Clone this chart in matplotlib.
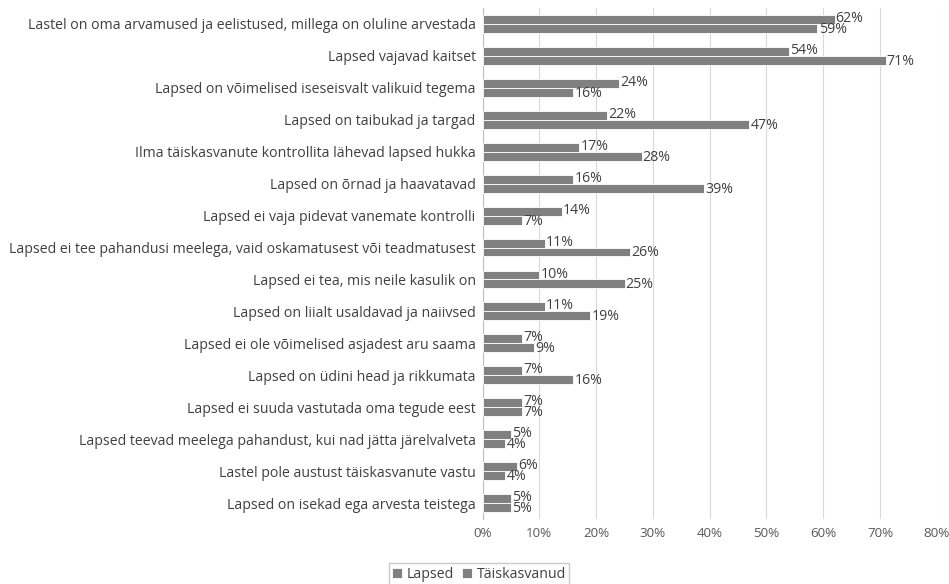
import matplotlib
matplotlib.use("Agg")
import matplotlib.pyplot as plt
import numpy as np

categories = [
    "Lastel on oma arvamused ja eelistused, millega on oluline arvestada",
    "Lapsed vajavad kaitset",
    "Lapsed on võimelised iseseisvalt valikuid tegema",
    "Lapsed on taibukad ja targad",
    "Ilma täiskasvanute kontrollita lähevad lapsed hukka",
    "Lapsed on õrnad ja haavatavad",
    "Lapsed ei vaja pidevat vanemate kontrolli",
    "Lapsed ei tee pahandusi meelega, vaid oskamatusest või teadmatusest",
    "Lapsed ei tea, mis neile kasulik on",
    "Lapsed on liialt usaldavad ja naiivsed",
    "Lapsed ei ole võimelised asjadest aru saama",
    "Lapsed on üdini head ja rikkumata",
    "Lapsed ei suuda vastutada oma tegude eest",
    "Lapsed teevad meelega pahandust, kui nad jätta järelvalveta",
    "Lastel pole austust täiskasvanute vastu",
    "Lapsed on isekad ega arvesta teistega",
]
lapsed = [62, 54, 24, 22, 17, 16, 14, 11, 10, 11, 7, 7, 7, 5, 6, 5]
taiskasvanud = [59, 71, 16, 47, 28, 39, 7, 26, 25, 19, 9, 16, 7, 4, 4, 5]
series_names = ["Lapsed", "Täiskasvanud"]
xticks = [0, 10, 20, 30, 40, 50, 60, 70, 80]

plt.rcParams['font.family'] = ['Open Sans', 'DejaVu Sans']
FS = 10.2
fig = plt.figure(figsize=(9.49, 5.84), dpi=100)
top, bottom = 8, 519
ax = fig.add_axes([482.6/949, 1-bottom/584, (936.7-482.6)/949, (bottom-top)/584])

n = len(categories)
y = np.arange(n)
h = 0.28
color = "#808080"
b1 = ax.barh(y - h/2, lapsed, height=h, color=color, edgecolor="white", linewidth=0.6, label=series_names[0], zorder=3)
b2 = ax.barh(y + h/2, taiskasvanud, height=h, color=color, edgecolor="white", linewidth=0.6, label=series_names[1], zorder=3)

for yi, v in zip(y, lapsed):
    ax.text(v + 0.2, yi - h/2 - 0.03, f"{v}%", va="center", ha="left", fontsize=FS, color="#404040", zorder=4)
for yi, v in zip(y, taiskasvanud):
    ax.text(v + 0.2, yi + h/2 + 0.03, f"{v}%", va="center", ha="left", fontsize=FS, color="#404040", zorder=4)

ax.set_ylim(n - 0.5, -0.5)
ax.set_xlim(0, 80)
ax.set_yticks(y)
ax.set_yticklabels(categories, fontsize=FS, color="#404040")
ax.set_xticks(xticks)
ax.set_xticklabels([f"{t}%" for t in xticks], fontsize=9.6, color="#595959")
ax.tick_params(axis="both", length=0, pad=5)
ax.tick_params(axis="x", pad=6)
ax.grid(axis="x", color="#d9d9d9", linewidth=0.8, zorder=0)
for s in ["top", "right", "bottom"]:
    ax.spines[s].set_visible(False)
ax.spines["left"].set_color("#bfbfbf")

leg = fig.legend(handles=[b1, b2], labels=series_names, loc="center", bbox_to_anchor=(479/949, 1-574/584),
                 ncol=2, frameon=True, fontsize=FS, handlelength=0.7, handleheight=0.7,
                 handletextpad=0.3, columnspacing=0.6, borderpad=0.25, fancybox=False, edgecolor="#bfbfbf")
for t in leg.get_texts():
    t.set_color("#404040")

fig.savefig("out.png", dpi=100)
